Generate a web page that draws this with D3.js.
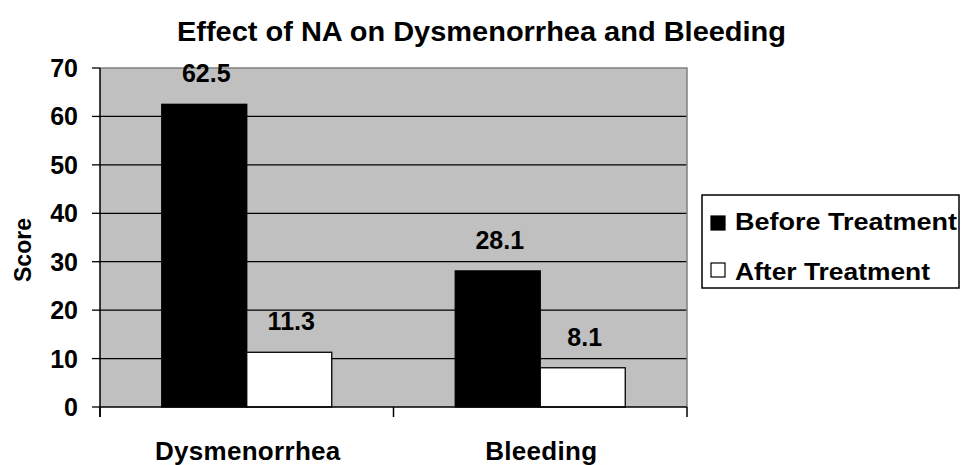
<!DOCTYPE html>
<html>
<head>
<meta charset="utf-8">
<script src="https://cdn.jsdelivr.net/npm/d3@7"></script>
<style>
  html, body { margin: 0; padding: 0; background: #fff; }
  svg { display: block; }
  text { font-family: "Liberation Sans", Arial, sans-serif; font-weight: bold; fill: #000; }
</style>
</head>
<body>
<svg id="chart" width="961" height="465"></svg>
<script>
const categories = ["Dysmenorrhea", "Bleeding"];
const seriesNames = ["Before Treatment", "After Treatment"];
const beforeValues = [62.5, 28.1];
const afterValues = [11.3, 8.1];
const yTicks = [0, 10, 20, 30, 40, 50, 60, 70];
const titleText = "Effect of NA on Dysmenorrhea and Bleeding";
const yLabel = "Score";

const colors = ["#000000", "#ffffff"];
const svg = d3.select("#chart");
const L = 100, R = 687, T = 68, B = 407;

const x = d3.scaleBand().domain(categories).range([L, R]).padding(0);
const bw = x.bandwidth();
const xs = d3.scaleBand().domain(seriesNames).range([0, bw])
  .paddingInner(0).paddingOuter((bw / 85 - 2) / 2);
const y = d3.scaleLinear().domain([0, 70]).range([B, T]);

// plot background
svg.append("rect").attr("x", L).attr("y", T).attr("width", R - L).attr("height", B - T)
  .attr("fill", "#c0c0c0");

// gridlines
svg.append("g").selectAll("line").data(yTicks.filter(t => t > 0 && t < 70)).join("line")
  .attr("x1", L).attr("x2", R).attr("y1", d => y(d)).attr("y2", d => y(d))
  .attr("stroke", "#000").attr("stroke-width", 1.3);

// top & right border
svg.append("path").attr("d", `M${L},${y(70)}H${R}V${B}`).attr("fill", "none")
  .attr("stroke", "#808080").attr("stroke-width", 1.5);

// bars
const data = [];
categories.forEach((c, i) => {
  data.push({ c, s: seriesNames[0], v: beforeValues[i], k: 0 });
  data.push({ c, s: seriesNames[1], v: afterValues[i], k: 1 });
});
svg.append("g").selectAll("rect").data(data).join("rect")
  .attr("x", d => x(d.c) + xs(d.s))
  .attr("y", d => y(d.v))
  .attr("width", xs.bandwidth())
  .attr("height", d => y(0) - y(d.v))
  .attr("fill", d => colors[d.k])
  .attr("stroke", "#000").attr("stroke-width", 1.3);

// value labels
svg.append("g").selectAll("text").data(data).join("text")
  .attr("x", d => x(d.c) + xs(d.s) + xs.bandwidth() / 2 + 2)
  .attr("y", d => y(d.v) - 22)
  .attr("text-anchor", "middle")
  .attr("font-size", 25)
  .text(d => d.v.toFixed(1));

// axes lines
svg.append("line").attr("x1", L).attr("x2", L).attr("y1", T).attr("y2", B + 10)
  .attr("stroke", "#000").attr("stroke-width", 1.5);
svg.append("line").attr("x1", L).attr("x2", R).attr("y1", B).attr("y2", B)
  .attr("stroke", "#000").attr("stroke-width", 1.5);

// y ticks
svg.append("g").selectAll("line").data(yTicks).join("line")
  .attr("x1", L - 8).attr("x2", L).attr("y1", d => y(d)).attr("y2", d => y(d))
  .attr("stroke", "#000").attr("stroke-width", 1.3);
svg.append("g").selectAll("text").data(yTicks).join("text")
  .attr("x", L - 22).attr("y", d => y(d) + 9)
  .attr("text-anchor", "end").attr("font-size", 25)
  .text(d => d);

// x ticks at band edges
const xEdges = [x(categories[0]), ...categories.map(c => x(c) + bw)];
svg.append("g").selectAll("line").data(xEdges).join("line")
  .attr("x1", d => d).attr("x2", d => d).attr("y1", B).attr("y2", B + 10)
  .attr("stroke", "#000").attr("stroke-width", 1.5);

// category labels
svg.append("g").selectAll("text").data(categories).join("text")
  .attr("x", d => x(d) + bw / 2 + 1).attr("y", 460)
  .attr("text-anchor", "middle").attr("font-size", 26)
  .attr("letter-spacing", 0.3)
  .text(d => d);

// title
svg.append("text").attr("x", 177).attr("y", 41)
  .attr("font-size", 27)
  .attr("textLength", 609).attr("lengthAdjust", "spacingAndGlyphs")
  .text(titleText);

// y label
svg.append("text").attr("transform", "translate(31,250) rotate(-90)")
  .attr("text-anchor", "middle").attr("font-size", 23)
  .text(yLabel);

// legend
svg.append("rect").attr("x", 702).attr("y", 195).attr("width", 257).attr("height", 93)
  .attr("fill", "#fff").attr("stroke", "#000").attr("stroke-width", 1.5);
const leg = svg.append("g").selectAll("g").data(seriesNames).join("g");
leg.append("rect").attr("x", 711).attr("y", (d, i) => 216 + i * 47)
  .attr("width", 14).attr("height", 14)
  .attr("fill", (d, i) => colors[i]).attr("stroke", "#000").attr("stroke-width", 1.2);
leg.append("text").attr("x", 735).attr("y", (d, i) => 230 + i * 50)
  .attr("font-size", 24)
  .attr("textLength", (d, i) => i === 0 ? 222 : 195).attr("lengthAdjust", "spacingAndGlyphs")
  .text(d => d);
</script>
</body>
</html>
